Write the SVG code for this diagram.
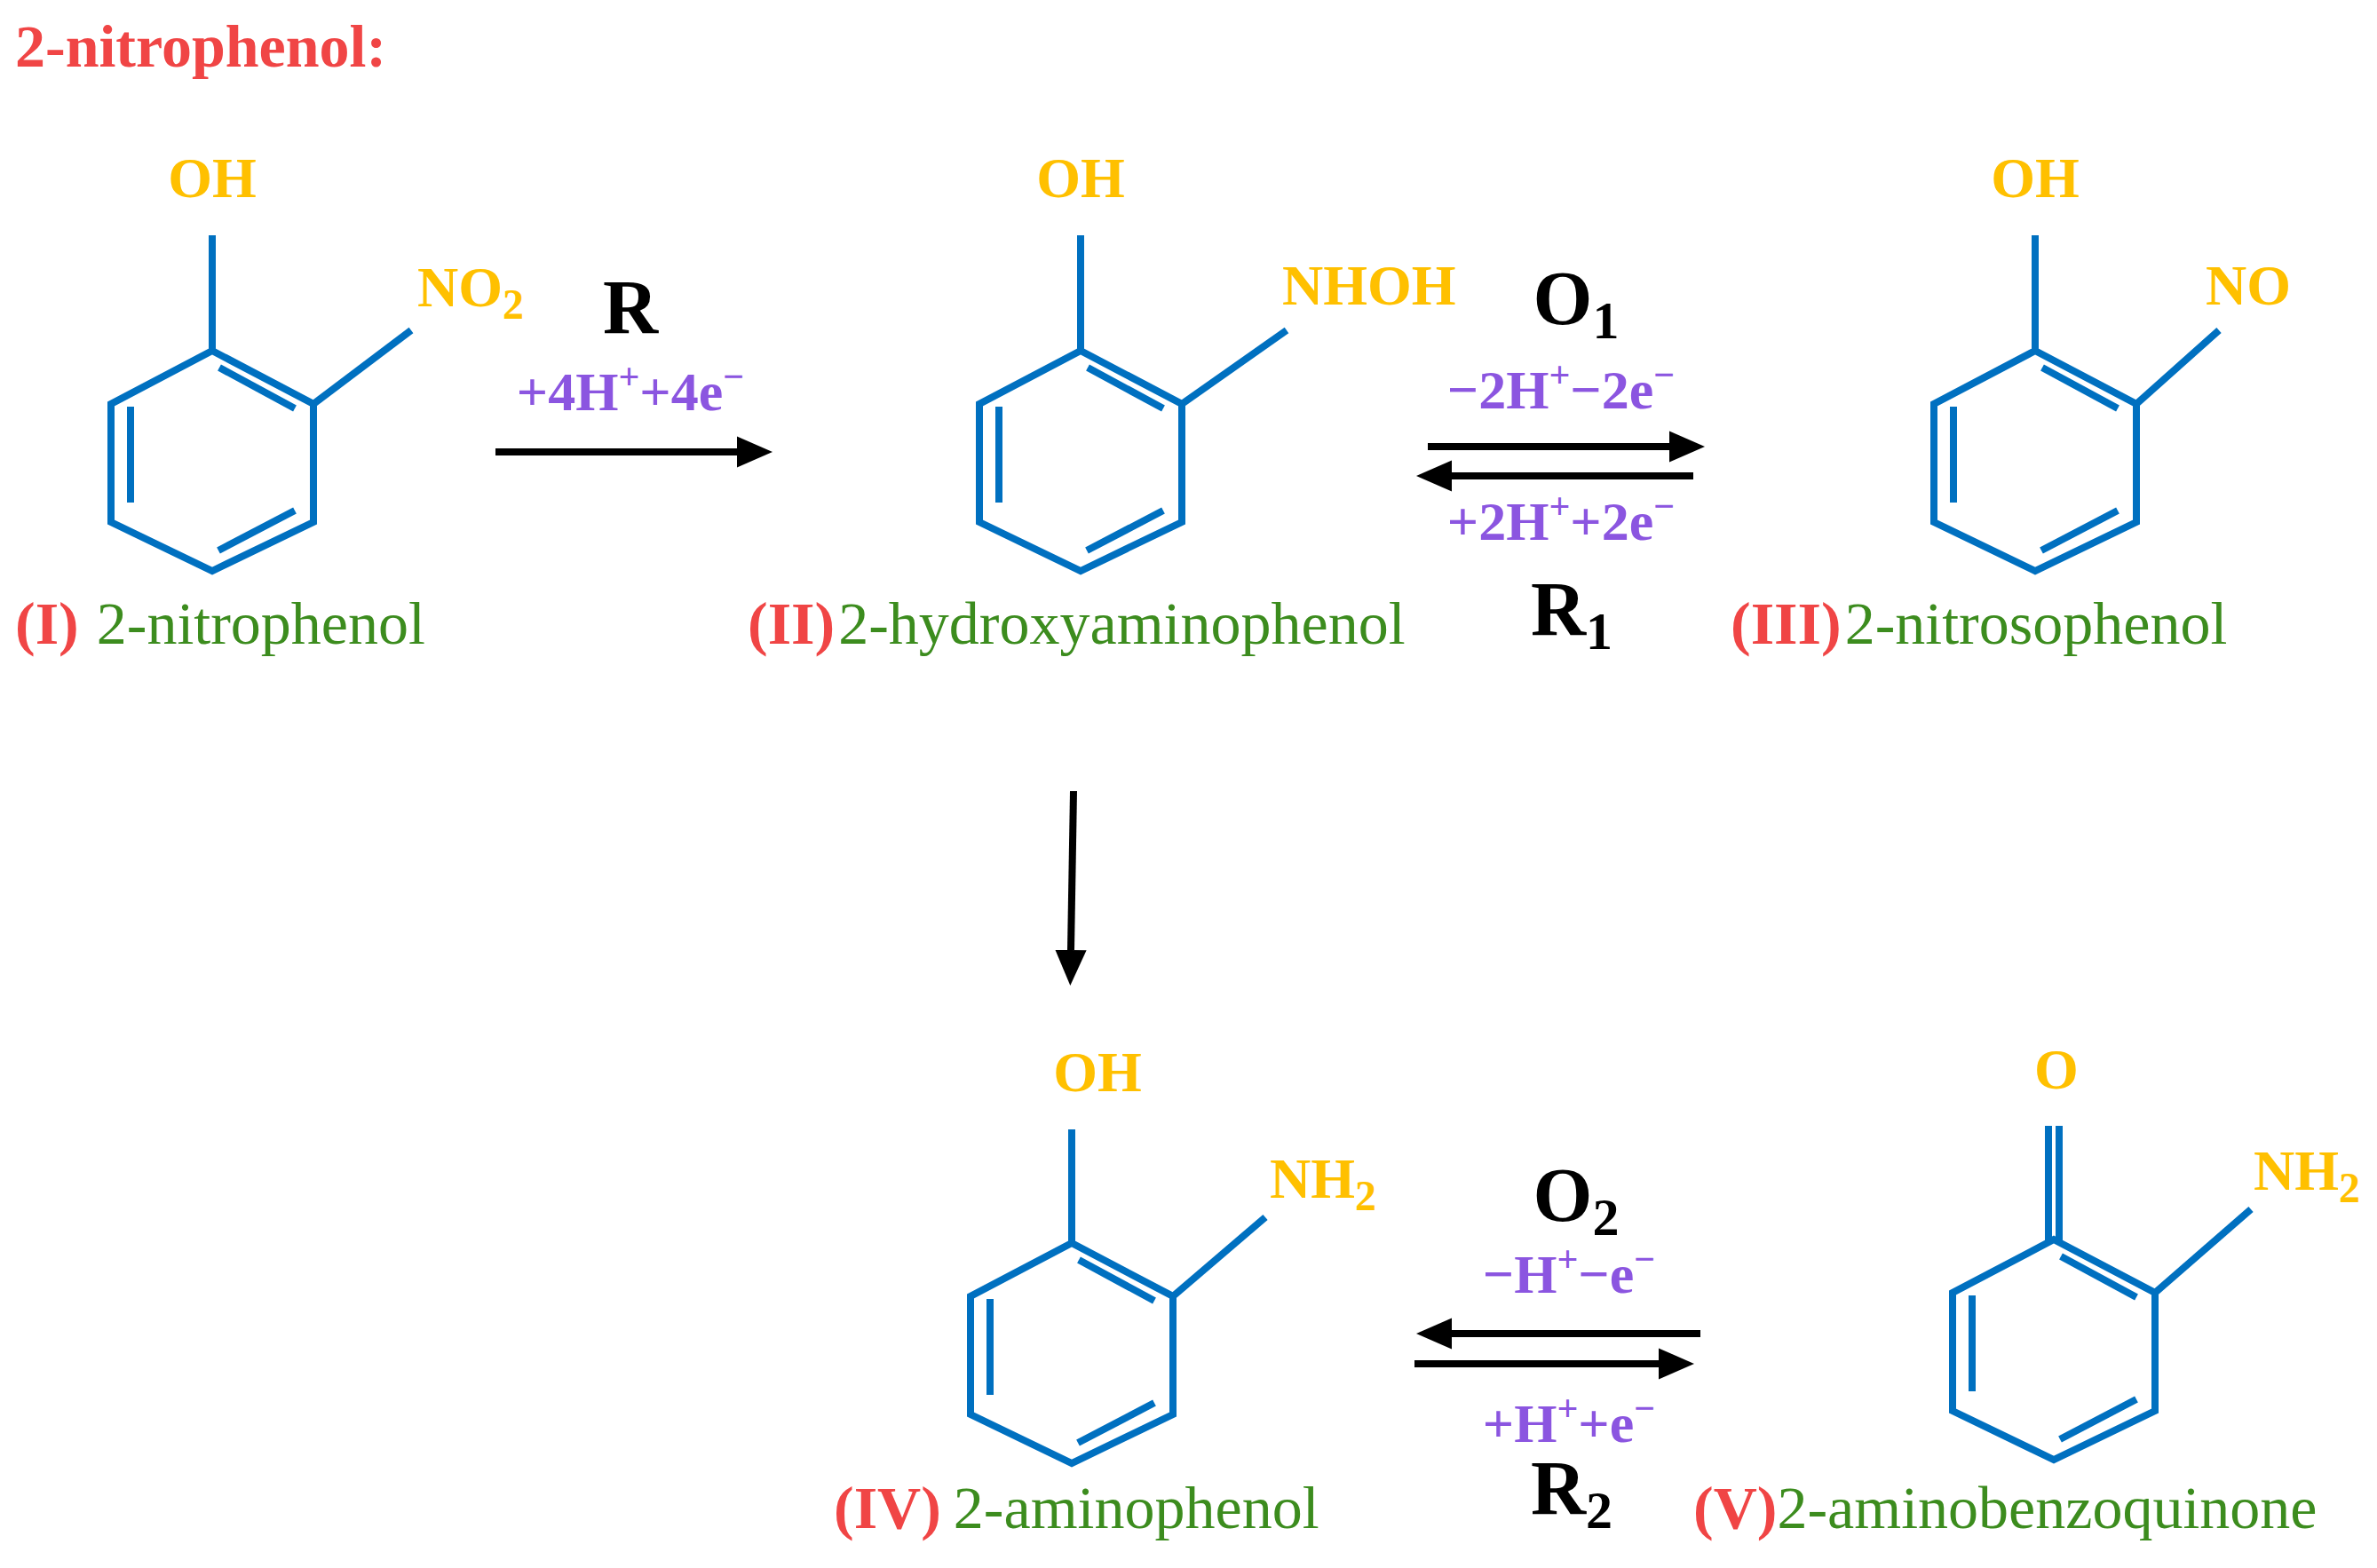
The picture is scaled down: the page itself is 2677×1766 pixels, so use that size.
<svg xmlns="http://www.w3.org/2000/svg" xmlns:xlink="http://www.w3.org/1999/xlink" width="2677" height="1766" viewBox="0 0 2677 1766">
<style>
.b{stroke:#0070C0;stroke-width:8;fill:none;stroke-linecap:butt;stroke-linejoin:miter}
.t{font-family:"Liberation Serif","Times New Roman",serif}
.y{fill:#FFC000;font-weight:bold;font-size:64px}
.k{fill:#000;font-weight:bold;font-size:86px}
.p{fill:#8B55E0;font-weight:bold;font-size:62px}
.r{fill:#F04545;font-weight:bold;font-size:68px}
.g{fill:#3C8C1E;font-size:68px}
.a{stroke:#000;stroke-width:8;fill:none}
</style>
<defs>
<g id="ring">
<polygon class="b" points="0,-124 114,-64 114,69 0,124 -114,69 -114,-64"/>
<line class="b" x1="8" y1="-105" x2="93" y2="-59"/>
<line class="b" x1="-92" y1="-61" x2="-92" y2="47"/>
<line class="b" x1="7" y1="101" x2="93" y2="56"/>
</g>
<marker id="ah" markerWidth="5" markerHeight="5" refX="0" refY="2.2" orient="auto" markerUnits="strokeWidth" viewBox="0 0 5 4.4"><path d="M0,0 L5,2.2 L0,4.4 Z" fill="#000"/></marker>
</defs>
<text class="t r" x="17" y="75" font-size="66">2-nitrophenol:</text>

<g id="n1">
<use xlink:href="#ring" x="239" y="519"/>
<line class="b" x1="239" y1="395" x2="239" y2="265"/>
<line class="b" x1="353" y1="455" x2="463" y2="372"/>
<text class="t y" x="239" y="222" text-anchor="middle">OH</text>
<text class="t y" x="470" y="345">NO<tspan font-size="48" dy="14">2</tspan></text>
<text class="t" x="17" y="725"><tspan class="r">(I)</tspan><tspan class="g" dx="20">2-nitrophenol</tspan></text>
</g>
<g id="n2">
<use xlink:href="#ring" x="1217" y="519"/>
<line class="b" x1="1217" y1="395" x2="1217" y2="265"/>
<line class="b" x1="1331" y1="455" x2="1449" y2="372"/>
<text class="t y" x="1217" y="222" text-anchor="middle">OH</text>
<text class="t y" x="1444" y="343">NHOH</text>
<text class="t" x="842" y="725"><tspan class="r">(II)</tspan><tspan class="g" dx="4">2-hydroxyaminophenol</tspan></text>
</g>
<g id="n3">
<use xlink:href="#ring" x="2292" y="519"/>
<line class="b" x1="2292" y1="395" x2="2292" y2="265"/>
<line class="b" x1="2406" y1="455" x2="2499" y2="372"/>
<text class="t y" x="2292" y="222" text-anchor="middle">OH</text>
<text class="t y" x="2484" y="343">NO</text>
<text class="t" x="1949" y="725"><tspan class="r">(III)</tspan><tspan class="g" dx="4">2-nitrosophenol</tspan></text>
</g>
<g id="n4">
<use xlink:href="#ring" x="1207" y="1524"/>
<line class="b" x1="1207" y1="1400" x2="1207" y2="1272"/>
<line class="b" x1="1321" y1="1460" x2="1425" y2="1371"/>
<text class="t y" x="1236" y="1229" text-anchor="middle">OH</text>
<text class="t y" x="1430" y="1349">NH<tspan font-size="48" dy="14">2</tspan></text>
<text class="t" x="939" y="1721"><tspan class="r">(IV)</tspan><tspan class="g" dx="14">2-aminophenol</tspan></text>
</g>
<g id="n5">
<use xlink:href="#ring" x="2313" y="1520"/>
<line class="b" x1="2307" y1="1398" x2="2307" y2="1268"/>
<line class="b" x1="2319" y1="1398" x2="2319" y2="1268"/>
<line class="b" x1="2427" y1="1456" x2="2535" y2="1362"/>
<text class="t y" x="2316" y="1226" text-anchor="middle">O</text>
<text class="t y" x="2538" y="1340">NH<tspan font-size="48" dy="14">2</tspan></text>
<text class="t" x="1907" y="1721"><tspan class="r">(V)</tspan><tspan class="g">2-aminobenzoquinone</tspan></text>
</g>

<g id="connectors">
<line class="a" x1="558" y1="509" x2="830" y2="509" marker-end="url(#ah)"/>
<line class="a" x1="1608" y1="503" x2="1880" y2="503" marker-end="url(#ah)"/>
<line class="a" x1="1907" y1="536" x2="1635" y2="536" marker-end="url(#ah)"/>
<line class="a" x1="1209" y1="891" x2="1206" y2="1070" marker-end="url(#ah)"/>
<line class="a" x1="1915" y1="1502" x2="1635" y2="1502" marker-end="url(#ah)"/>
<line class="a" x1="1593" y1="1536" x2="1868" y2="1536" marker-end="url(#ah)"/>
<text class="t k" x="710" y="375" text-anchor="middle">R</text>
<text class="t p" x="710" y="462" text-anchor="middle">+4H<tspan font-size="42" dy="-24">+</tspan><tspan dy="24">+4e</tspan><tspan font-size="42" dy="-24">−</tspan></text>
<text class="t k" x="1775" y="365" text-anchor="middle">O<tspan font-size="60" dy="16">1</tspan></text>
<text class="t p" x="1758" y="460" text-anchor="middle">−2H<tspan font-size="42" dy="-24">+</tspan><tspan dy="24">−2e</tspan><tspan font-size="42" dy="-24">−</tspan></text>
<text class="t p" x="1758" y="608" text-anchor="middle">+2H<tspan font-size="42" dy="-24">+</tspan><tspan dy="24">+2e</tspan><tspan font-size="42" dy="-24">−</tspan></text>
<text class="t k" x="1770" y="715" text-anchor="middle">R<tspan font-size="60" dy="16">1</tspan></text>
<text class="t k" x="1775" y="1375" text-anchor="middle">O<tspan font-size="60" dy="16">2</tspan></text>
<text class="t p" x="1767" y="1456" text-anchor="middle">−H<tspan font-size="42" dy="-24">+</tspan><tspan dy="24">−e</tspan><tspan font-size="42" dy="-24">−</tspan></text>
<text class="t p" x="1767" y="1624" text-anchor="middle">+H<tspan font-size="42" dy="-24">+</tspan><tspan dy="24">+e</tspan><tspan font-size="42" dy="-24">−</tspan></text>
<text class="t k" x="1770" y="1705" text-anchor="middle">R<tspan font-size="60" dy="16">2</tspan></text>
</g>
</svg>
